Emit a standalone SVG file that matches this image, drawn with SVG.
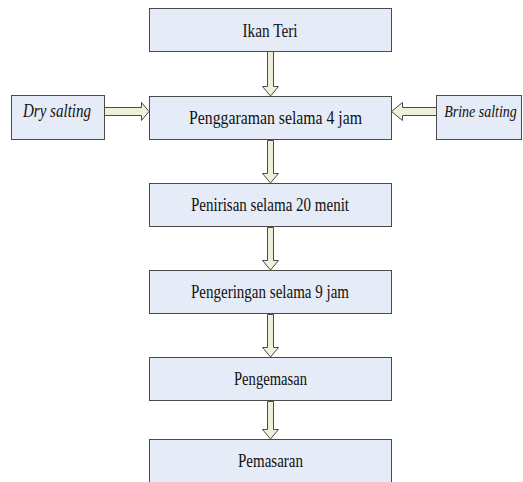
<svg xmlns="http://www.w3.org/2000/svg" width="523" height="482" viewBox="0 0 523 482">
<style>
.box{fill:#e6ecf7;stroke:#4a4a4a;stroke-width:1}
.arr{fill:#eef0d9;stroke:#4a4a4a;stroke-width:1;stroke-linejoin:miter}
text{font-family:"Liberation Serif","Times New Roman",serif;font-size:18px;fill:#111;text-anchor:middle}
.it{font-style:italic}
</style>
<rect width="523" height="482" fill="#fff"/>
<g id="connectors">
<path class="arr" d="M267.5,51.5 V86.5 H262.5 L270.5,96 L278.5,86.5 H273.5 V51.5 Z"/>
<path class="arr" d="M267.5,140.5 V173.5 H262.5 L270.5,183 L278.5,173.5 H273.5 V140.5 Z"/>
<path class="arr" d="M267.5,227.5 V260.5 H262.5 L270.5,270 L278.5,260.5 H273.5 V227.5 Z"/>
<path class="arr" d="M267.5,314.5 V347.5 H262.5 L270.5,357 L278.5,347.5 H273.5 V314.5 Z"/>
<path class="arr" d="M267.5,401.5 V429.5 H262.5 L270.5,439 L278.5,429.5 H273.5 V401.5 Z"/>
<path class="arr" d="M104.5,107.5 H141.5 V102.5 L149,111.5 L141.5,120.5 V115.5 H104.5 Z"/>
<path class="arr" d="M436.5,107.5 H402.5 V102.5 L391.5,111.5 L402.5,120.5 V115.5 H436.5 Z"/>
</g>
<g id="n1"><rect class="box" x="149.5" y="8.5" width="242" height="43"/><text x="270" y="37" textLength="55" lengthAdjust="spacingAndGlyphs">Ikan Teri</text></g>
<g id="n2"><rect class="box" x="149.5" y="96.5" width="242" height="43"/><text x="275.5" y="123.5" textLength="173" lengthAdjust="spacingAndGlyphs">Penggaraman selama 4 jam</text></g>
<g id="n3"><rect class="box" x="149.5" y="183.5" width="242" height="43"/><text x="270" y="211" textLength="158" lengthAdjust="spacingAndGlyphs">Penirisan selama 20 menit</text></g>
<g id="n4"><rect class="box" x="149.5" y="270.5" width="242" height="43"/><text x="270" y="298" textLength="158" lengthAdjust="spacingAndGlyphs">Pengeringan selama 9 jam</text></g>
<g id="n5"><rect class="box" x="149.5" y="357.5" width="242" height="43"/><text x="270.5" y="385" textLength="73" lengthAdjust="spacingAndGlyphs">Pengemasan</text></g>
<g id="n6"><rect class="box" x="149.5" y="439.5" width="242" height="50"/><text x="270.5" y="467" textLength="65" lengthAdjust="spacingAndGlyphs">Pemasaran</text></g>
<g id="n7"><rect class="box" x="11.5" y="95.5" width="93" height="44"/><text class="it" x="57" y="117" textLength="68" lengthAdjust="spacingAndGlyphs">Dry salting</text></g>
<g id="n8"><rect class="box" x="436.5" y="95.5" width="85" height="44"/><text class="it" transform="translate(480.5,117) scale(1,1.25)" x="0" y="0" style="font-size:14px">Brine salting</text></g>
</svg>
